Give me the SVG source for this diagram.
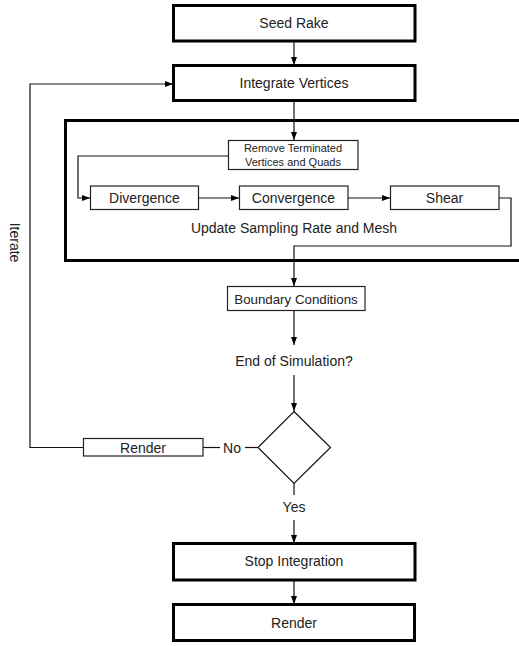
<svg xmlns="http://www.w3.org/2000/svg" width="519" height="646" viewBox="0 0 519 646">
<style>
text{font-family:"Liberation Sans",Arial,sans-serif;font-size:14px;fill:#222;text-anchor:middle}
.big{fill:#fff;stroke:#000;stroke-width:3}
.small{fill:#fff;stroke:#222;stroke-width:1.2}
.c{fill:none;stroke:#111;stroke-width:1.2}
</style>
<defs>
<marker id="ah" markerUnits="userSpaceOnUse" markerWidth="9" markerHeight="7" refX="8" refY="3" orient="auto">
<path d="M0,0 L8,3 L0,6 z" fill="#000"/>
</marker>
</defs>
<g id="update-box">
<rect class="big" x="65.5" y="120.5" width="460" height="140"/>
<text x="294" y="233">Update Sampling Rate and Mesh</text>
</g>
<g id="seed-rake">
<rect class="big" x="173.5" y="5.5" width="241.5" height="35.5"/>
<text x="294" y="28">Seed Rake</text>
</g>
<g id="integrate">
<rect class="big" x="173.5" y="65.5" width="241.5" height="35"/>
<text x="294" y="88">Integrate Vertices</text>
</g>
<g id="remove">
<rect class="small" x="228.5" y="140.5" width="129.5" height="29"/>
<text x="293" y="151.5" style="font-size:11px">Remove Terminated</text>
<text x="293" y="166" style="font-size:11px">Vertices and Quads</text>
</g>
<g id="divergence">
<rect class="small" x="90.5" y="186" width="108" height="23.5"/>
<text x="144.5" y="203">Divergence</text>
</g>
<g id="convergence">
<rect class="small" x="239.5" y="186" width="108.5" height="23.5"/>
<text x="293.5" y="203">Convergence</text>
</g>
<g id="shear">
<rect class="small" x="390.5" y="186" width="108.5" height="23.5"/>
<text x="444.5" y="203">Shear</text>
</g>
<g id="boundary">
<rect class="small" x="227.5" y="286.5" width="137.5" height="24"/>
<text x="296" y="303.5" style="font-size:13.3px">Boundary Conditions</text>
</g>
<g id="end-sim">
<text x="294" y="366">End of Simulation?</text>
</g>
<g id="decision">
<polygon points="294,411.5 330.5,447.5 294,483.5 258,447.5" fill="#fff" stroke="#111" stroke-width="1.2"/>
</g>
<g id="render-small">
<rect class="small" x="83.5" y="438.5" width="119.5" height="17.5"/>
<text x="143" y="452.5">Render</text>
</g>
<g id="stop">
<rect class="big" x="173.5" y="543.5" width="241.5" height="36.5"/>
<text x="294" y="565.7">Stop Integration</text>
</g>
<g id="render">
<rect class="big" x="173.5" y="604.5" width="241" height="36"/>
<text x="294" y="627.7">Render</text>
</g>
<g id="connectors">
<line class="c" x1="294" y1="41" x2="294" y2="65" marker-end="url(#ah)"/>
<line class="c" x1="294" y1="101" x2="294" y2="140" marker-end="url(#ah)"/>
<path class="c" d="M228,156 H78 V198 H90" marker-end="url(#ah)"/>
<line class="c" x1="198.5" y1="198" x2="239" y2="198" marker-end="url(#ah)"/>
<line class="c" x1="348" y1="198" x2="390" y2="198" marker-end="url(#ah)"/>
<path class="c" d="M499,198 H511 V246 H294 V286" marker-end="url(#ah)"/>
<line class="c" x1="294" y1="311" x2="294" y2="345" marker-end="url(#ah)"/>
<line class="c" x1="294" y1="375" x2="294" y2="411" marker-end="url(#ah)"/>
<line class="c" x1="258" y1="447.5" x2="245" y2="447.5"/>
<text x="232" y="452.5">No</text>
<line class="c" x1="220" y1="447.5" x2="203" y2="447.5"/>
<path class="c" d="M83.5,447.5 H30 V84 H173" marker-end="url(#ah)"/>
<text x="0" y="0" transform="translate(10,242.5) rotate(90)">Iterate</text>
<line class="c" x1="294" y1="483.5" x2="294" y2="495"/>
<text x="294" y="511.5">Yes</text>
<line class="c" x1="294" y1="520" x2="294" y2="543" marker-end="url(#ah)"/>
<line class="c" x1="294" y1="581" x2="294" y2="604" marker-end="url(#ah)"/>
</g>
</svg>
